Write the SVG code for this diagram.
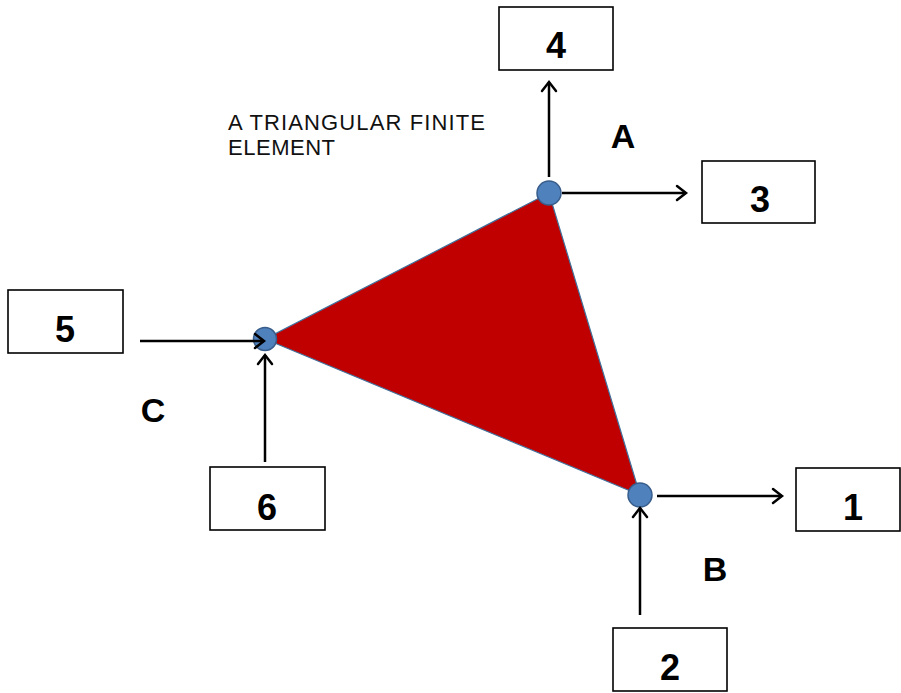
<svg xmlns="http://www.w3.org/2000/svg" width="901" height="693" viewBox="0 0 901 693">
<defs>
<marker id="ah" markerUnits="userSpaceOnUse" markerWidth="20" markerHeight="20" refX="0" refY="0" viewBox="-12 -10 14 20" orient="auto" overflow="visible">
<path d="M -9 -7 L 0 0 L -9 7" fill="none" stroke="#000" stroke-width="2.5" stroke-linecap="round" stroke-linejoin="miter"/>
</marker>
</defs>
<style>
.box{fill:#fff;stroke:#000;stroke-width:1.6}
.num{font-family:"Liberation Sans",Arial,sans-serif;font-weight:bold;font-size:36px;fill:#000;text-anchor:middle}
.lbl{font-family:"Liberation Sans",Arial,sans-serif;font-weight:bold;font-size:34px;fill:#000;text-anchor:middle}
.title{font-family:"Liberation Sans",Arial,sans-serif;font-size:22px;fill:#111}
.node{fill:#4F81BD;stroke:#385D8A;stroke-width:1.5}
.conn{stroke:#000;stroke-width:2.5;fill:none;marker-end:url(#ah)}
</style>
<rect width="901" height="693" fill="#fff"/>
<g id="element">
<polygon points="549,193 265,339 640,495" fill="#C00000" stroke="#41719C" stroke-width="1.2"/>
</g>
<g id="nodeA"><circle class="node" cx="549" cy="193" r="12"/><text class="lbl" x="623" y="148">A</text></g>
<g id="nodeB"><circle class="node" cx="640" cy="495" r="12"/><text class="lbl" x="715" y="581">B</text></g>
<g id="nodeC"><circle class="node" cx="265" cy="339" r="11.5"/><text class="lbl" x="153" y="422">C</text></g>
<g id="box1"><rect class="box" x="796" y="468" width="104" height="63"/><text class="num" x="853" y="520">1</text></g>
<g id="box2"><rect class="box" x="613" y="628" width="114" height="63"/><text class="num" x="670" y="680">2</text></g>
<g id="box3"><rect class="box" x="702" y="161" width="113" height="62"/><text class="num" x="760" y="212">3</text></g>
<g id="box4"><rect class="box" x="499" y="7" width="114" height="63"/><text class="num" x="556" y="58">4</text></g>
<g id="box5"><rect class="box" x="8" y="290" width="115" height="63"/><text class="num" x="65" y="342">5</text></g>
<g id="box6"><rect class="box" x="210" y="467" width="115" height="63"/><text class="num" x="267" y="520">6</text></g>
<g id="title">
<text class="title" x="228" y="130" textLength="257" lengthAdjust="spacing">A TRIANGULAR  FINITE</text>
<text class="title" x="228" y="155" textLength="107" lengthAdjust="spacing">ELEMENT</text>
</g>
<g id="connectors">
<line class="conn" x1="549" y1="177" x2="549" y2="82"/>
<line class="conn" x1="562" y1="193" x2="686" y2="193"/>
<line class="conn" x1="657" y1="496" x2="782" y2="496"/>
<line class="conn" x1="640" y1="615" x2="640" y2="508"/>
<line class="conn" x1="140" y1="341" x2="264" y2="341"/>
<line class="conn" x1="265" y1="462" x2="265" y2="355"/>
</g>
</svg>
